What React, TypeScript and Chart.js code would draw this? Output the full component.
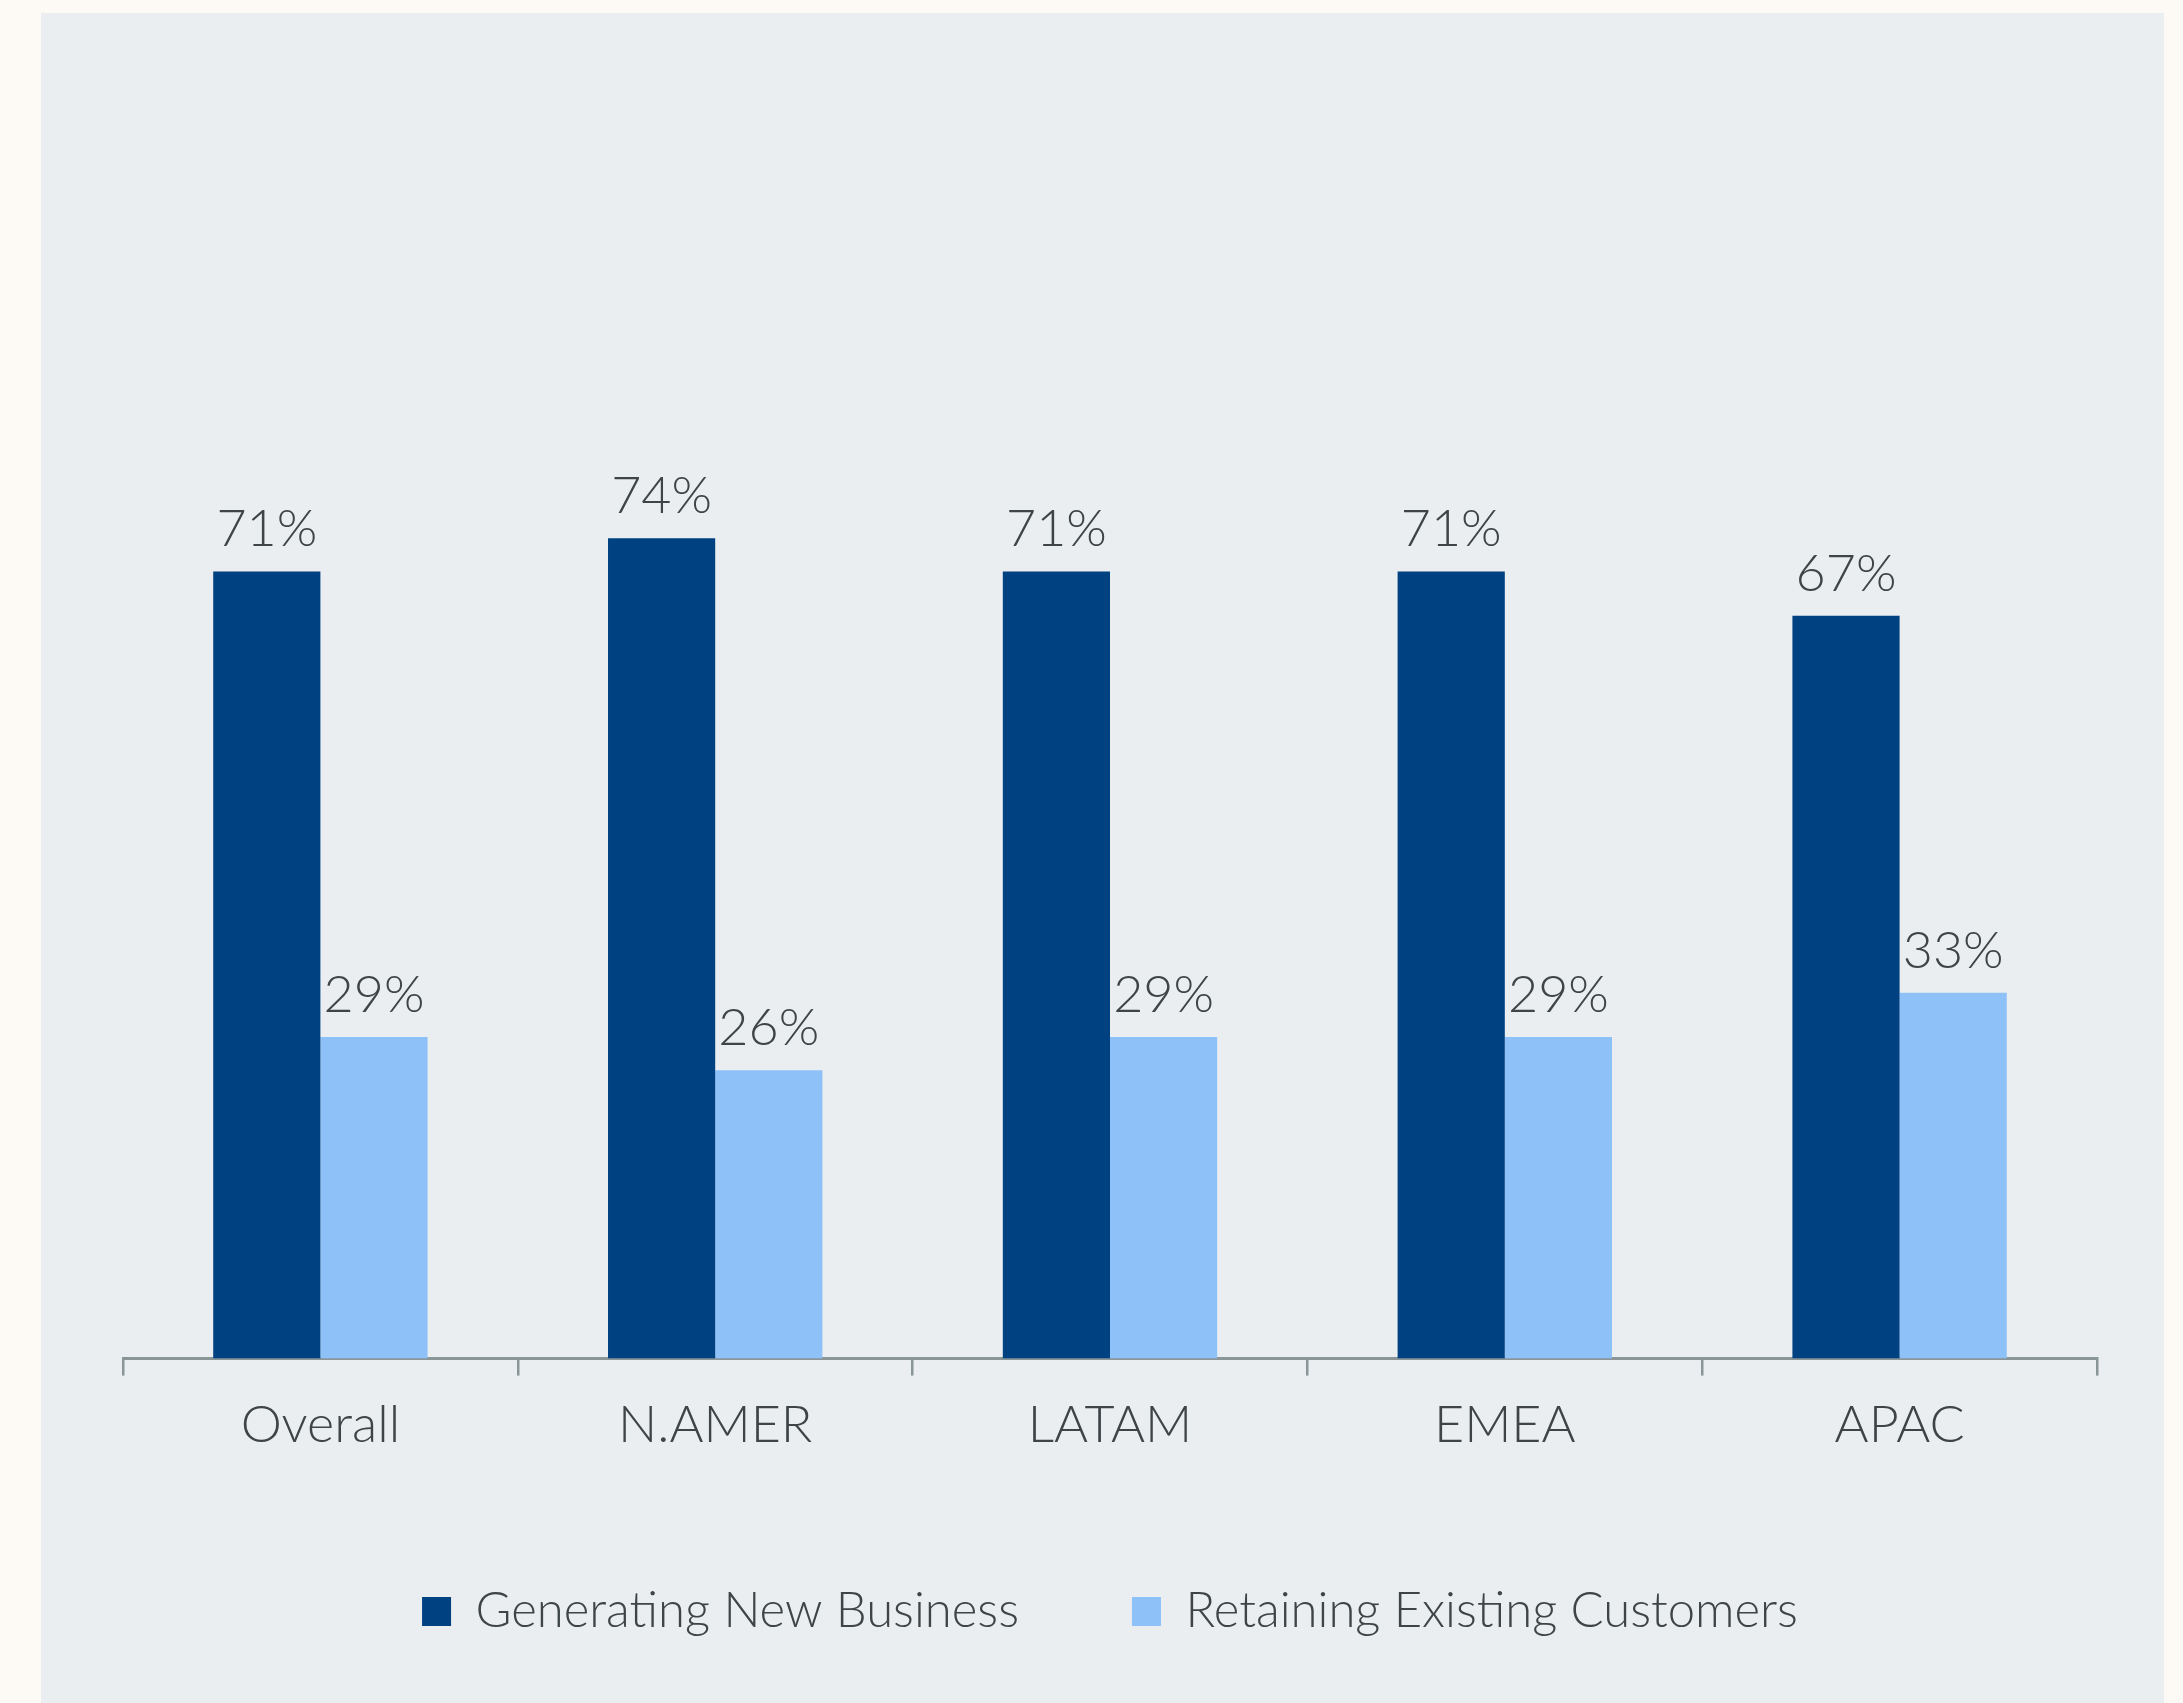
import { useEffect, useRef } from 'react';
import { Chart, registerables, Plugin } from 'chart.js';

Chart.register(...registerables);

const regions = ['Overall', 'N.AMER', 'LATAM', 'EMEA', 'APAC'];
const newBusiness = [71, 74, 71, 71, 67];
const retaining = [29, 26, 29, 29, 33];
const seriesNames = ['Generating New Business', 'Retaining Existing Customers'];

const DARK = '#004182';
const LIGHT = '#8ec1f8';
const TEXT = '#3f4547';
const AXIS = '#8a9598';
const FONT = 'Lato, "Open Sans", sans-serif';

// percentage labels sitting above each bar
const valueLabels: Plugin<'bar'> = {
    id: 'valueLabels',
    afterDatasetsDraw(chart) {
        const { ctx } = chart;
        ctx.save();
        ctx.fillStyle = TEXT;
        ctx.font = `300 52px ${FONT}`;
        ctx.textAlign = 'center';
        ctx.textBaseline = 'alphabetic';
        chart.data.datasets.forEach((ds, i) => {
            const meta = chart.getDatasetMeta(i);
            meta.data.forEach((bar, j) => {
                ctx.fillText(`${ds.data[j]}%`, bar.x, bar.y - 25);
            });
        });
        ctx.restore();
    },
};

export default function App() {
    const canvasRef = useRef<HTMLCanvasElement>(null);
    const chartRef = useRef<Chart | null>(null);

    useEffect(() => {
        if (!canvasRef.current) return;
        chartRef.current?.destroy();

        chartRef.current = new Chart(canvasRef.current, {
            type: 'bar',
            data: {
                labels: regions,
                datasets: [
                    { label: seriesNames[0], data: newBusiness, backgroundColor: DARK },
                    { label: seriesNames[1], data: retaining, backgroundColor: LIGHT },
                ],
            },
            options: {
                animation: false,
                responsive: true,
                maintainAspectRatio: false,
                categoryPercentage: 0.543,
                barPercentage: 1,
                layout: { padding: { left: 82, right: 67, top: 237, bottom: 57 } },
                scales: {
                    x: {
                        grid: {
                            display: true,
                            drawOnChartArea: false,
                            drawTicks: true,
                            tickLength: 17,
                            color: AXIS,
                            lineWidth: 2.5,
                            offset: true,
                        },
                        border: { display: true, color: AXIS, width: 3 },
                        ticks: {
                            color: TEXT,
                            font: { family: FONT, size: 52, weight: 300 },
                            padding: 18,
                        },
                    },
                    y: { display: false, min: 0, max: 100 },
                },
                plugins: {
                    legend: {
                        position: 'bottom',
                        labels: {
                            boxWidth: 29,
                            boxHeight: 29,
                            color: TEXT,
                            font: { family: FONT, size: 49, weight: 300 },
                            padding: 113,
                        },
                    },
                    tooltip: { enabled: false },
                },
            },
            plugins: [valueLabels],
        });

        return () => {
            chartRef.current?.destroy();
            chartRef.current = null;
        };
    }, []);

    return (
        <div style={{ position: 'absolute', left: 0, top: 0, width: 2183, height: 1703, background: '#fdf9f4' }}>
            <div style={{ position: 'absolute', left: 41, top: 13, width: 2123, height: 1690, background: '#eaeef1' }}>
                <canvas ref={canvasRef} />
            </div>
        </div>
    );
}
